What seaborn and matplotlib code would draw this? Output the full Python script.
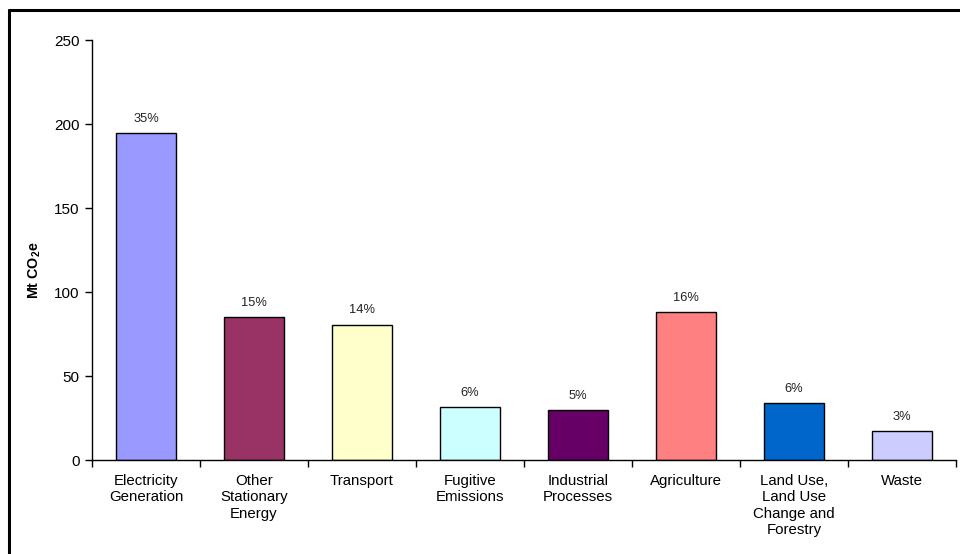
import matplotlib
matplotlib.use("Agg")
import matplotlib.pyplot as plt
import seaborn as sns
import pandas as pd
from matplotlib.lines import Line2D

categories = ["Electricity\nGeneration", "Other\nStationary\nEnergy", "Transport",
              "Fugitive\nEmissions", "Industrial\nProcesses", "Agriculture",
              "Land Use,\nLand Use\nChange and\nForestry", "Waste"]
values = [194.5, 85, 80.5, 31.5, 29.5, 88, 34, 17]
shares = ["35%", "15%", "14%", "6%", "5%", "16%", "6%", "3%"]
colors = ["#9999FF", "#993366", "#FFFFCC", "#CCFFFF", "#660066", "#FF8080", "#0066CC", "#CCCCFF"]

sns.set_theme(style="white")
plt.rcParams["font.family"] = ["Liberation Sans", "DejaVu Sans"]
plt.rcParams["mathtext.fontset"] = "custom"
plt.rcParams["mathtext.rm"] = "Liberation Sans"
plt.rcParams["mathtext.bf"] = "Liberation Sans:bold"
plt.rcParams["text.color"] = "black"
plt.rcParams["xtick.color"] = "black"
plt.rcParams["ytick.color"] = "black"
plt.rcParams["axes.labelcolor"] = "black"

df = pd.DataFrame({"cat": categories, "val": values})

fig = plt.figure(figsize=(9.6, 5.54), dpi=100)
ax = fig.add_axes([92/960, (554-460)/554, (956-92)/960, 420/554])

sns.barplot(data=df, x="cat", y="val", hue="cat", palette=colors, dodge=False,
            width=0.56, edgecolor="black", linewidth=1, legend=False, ax=ax, saturation=1)

for i, (v, s) in enumerate(zip(values, shares)):
    ax.annotate(s, (i, v), xytext=(0, 6), textcoords="offset points",
                ha="center", va="bottom", fontsize=9.3, color="#222222")

ax.set_xlim(-0.5, len(categories) - 0.5)
ax.set_ylim(0, 250)
ax.set_yticks([0, 50, 100, 150, 200, 250])
ax.set_xticks(range(len(categories)))
ax.set_xticklabels(categories, fontsize=10.8, linespacing=1.22, va="top")
ax.set_xticks([i - 0.5 for i in range(len(categories) + 1)], minor=True)
ax.tick_params(axis="x", which="major", length=0, pad=10)
ax.tick_params(axis="x", which="minor", length=5, width=1, color="black", direction="out", bottom=True)
ax.tick_params(axis="y", length=5, width=1, color="black", direction="out", left=True, labelsize=11, pad=4)
ax.set_xlabel("")
ax.set_ylabel(r"Mt CO$_\mathbf{2}$e", fontsize=10.3, fontweight="bold")
ax.yaxis.set_label_coords(-0.057, 0.452)

for side in ["top", "right"]:
    ax.spines[side].set_visible(False)
for side in ["left", "bottom"]:
    ax.spines[side].set_color("black")
    ax.spines[side].set_linewidth(1)

# outer chart frame (partially clipped)
fig.add_artist(Line2D([9/960, 1.0], [1 - 10/554, 1 - 10/554], transform=fig.transFigure,
                      color="black", linewidth=2.2))
fig.add_artist(Line2D([9/960, 9/960], [0, 1 - 10/554], transform=fig.transFigure,
                      color="black", linewidth=2.2))

fig.savefig("out.png", dpi=100)
